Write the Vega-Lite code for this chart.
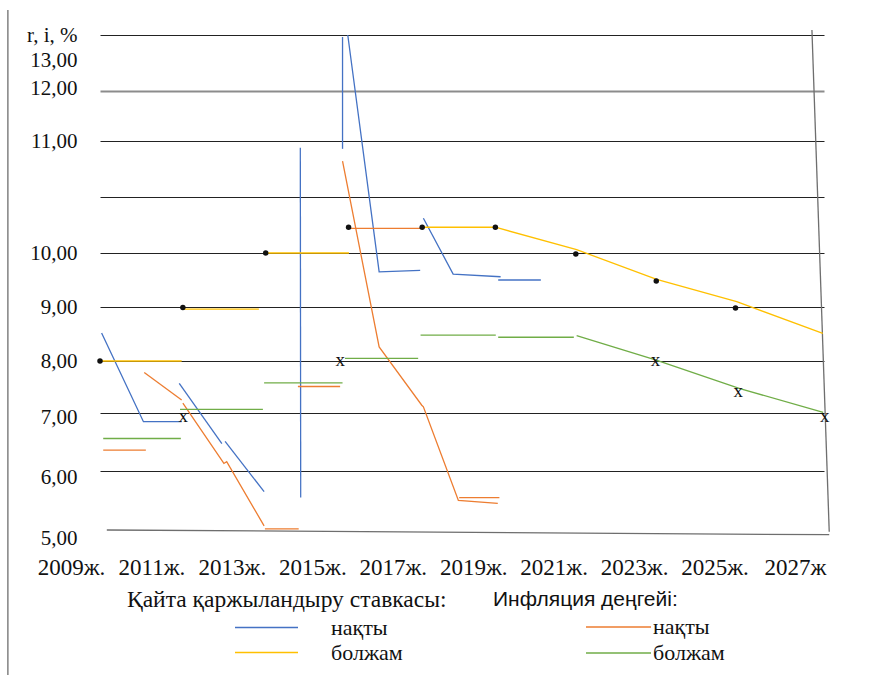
{
  "$schema": "https://vega.github.io/schema/vega-lite/v6.json",
  "width": 720,
  "height": 495,
  "autosize": {"type": "none"},
  "padding": {"left": 97, "top": 35, "right": 55, "bottom": 145},
  "background": "white",
  "config": {"view": {"stroke": null}, "font": "Liberation Serif, Times New Roman, DejaVu Serif, serif"},
  "datasets": {
    "rate": [
      {"seg": "B1", "type": "нақты", "year": 2009.04, "rate": 8.52, "ord": 1},
      {"seg": "B1", "type": "нақты", "year": 2010.08, "rate": 6.85, "ord": 2},
      {"seg": "B1", "type": "нақты", "year": 2011.03, "rate": 6.85, "ord": 3},
      {"seg": "B2", "type": "нақты", "year": 2010.97, "rate": 7.57, "ord": 1},
      {"seg": "B2", "type": "нақты", "year": 2012.03, "rate": 6.47, "ord": 2},
      {"seg": "B3", "type": "нақты", "year": 2012.11, "rate": 6.51, "ord": 1},
      {"seg": "B3", "type": "нақты", "year": 2013.08, "rate": 5.65, "ord": 2},
      {"seg": "B4", "type": "нақты", "year": 2013.98, "rate": 10.94, "ord": 1},
      {"seg": "B4", "type": "нақты", "year": 2013.99, "rate": 5.55, "ord": 2},
      {"seg": "B5", "type": "нақты", "year": 2015.03, "rate": 13.46, "ord": 1},
      {"seg": "B5", "type": "нақты", "year": 2015.03, "rate": 10.93, "ord": 2},
      {"seg": "B6", "type": "нақты", "year": 2015.16, "rate": 13.5, "ord": 1},
      {"seg": "B6", "type": "нақты", "year": 2015.94, "rate": 9.65, "ord": 2},
      {"seg": "B6", "type": "нақты", "year": 2016.96, "rate": 9.68, "ord": 3},
      {"seg": "B7", "type": "нақты", "year": 2017.04, "rate": 10.31, "ord": 1},
      {"seg": "B7", "type": "нақты", "year": 2017.78, "rate": 9.61, "ord": 2},
      {"seg": "B7", "type": "нақты", "year": 2018.96, "rate": 9.56, "ord": 3},
      {"seg": "B8", "type": "нақты", "year": 2018.90, "rate": 9.50, "ord": 1},
      {"seg": "B8", "type": "нақты", "year": 2019.96, "rate": 9.50, "ord": 2},
      {"seg": "Y1", "type": "болжам", "year": 2009.00, "rate": 8.00, "ord": 1},
      {"seg": "Y1", "type": "болжам", "year": 2011.03, "rate": 8.00, "ord": 2},
      {"seg": "Y2", "type": "болжам", "year": 2011.06, "rate": 8.96, "ord": 1},
      {"seg": "Y2", "type": "болжам", "year": 2012.95, "rate": 8.96, "ord": 2},
      {"seg": "Y3", "type": "болжам", "year": 2013.12, "rate": 10.0, "ord": 1},
      {"seg": "Y3", "type": "болжам", "year": 2015.19, "rate": 10.0, "ord": 2},
      {"seg": "Y4", "type": "болжам", "year": 2017.01, "rate": 10.23, "ord": 1},
      {"seg": "Y4", "type": "болжам", "year": 2018.83, "rate": 10.23, "ord": 2},
      {"seg": "Y4", "type": "болжам", "year": 2020.85, "rate": 10.03, "ord": 3},
      {"seg": "Y4", "type": "болжам", "year": 2022.84, "rate": 9.51, "ord": 4},
      {"seg": "Y4", "type": "болжам", "year": 2024.83, "rate": 9.10, "ord": 5},
      {"seg": "Y4", "type": "болжам", "year": 2026.97, "rate": 8.51, "ord": 6}
    ],
    "infl": [
      {"seg": "O1", "type": "нақты", "year": 2009.08, "rate": 6.36, "ord": 1},
      {"seg": "O1", "type": "нақты", "year": 2010.14, "rate": 6.36, "ord": 2},
      {"seg": "O2", "type": "нақты", "year": 2010.10, "rate": 7.78, "ord": 1},
      {"seg": "O2", "type": "нақты", "year": 2011.03, "rate": 7.25, "ord": 2},
      {"seg": "O3", "type": "нақты", "year": 2011.06, "rate": 7.19, "ord": 1},
      {"seg": "O3", "type": "нақты", "year": 2012.08, "rate": 6.13, "ord": 2},
      {"seg": "O3", "type": "нақты", "year": 2012.15, "rate": 6.16, "ord": 3},
      {"seg": "O3", "type": "нақты", "year": 2013.08, "rate": 5.07, "ord": 4},
      {"seg": "O4", "type": "нақты", "year": 2013.10, "rate": 5.02, "ord": 1},
      {"seg": "O4", "type": "нақты", "year": 2013.94, "rate": 5.02, "ord": 2},
      {"seg": "O5", "type": "нақты", "year": 2013.92, "rate": 7.51, "ord": 1},
      {"seg": "O5", "type": "нақты", "year": 2014.97, "rate": 7.51, "ord": 2},
      {"seg": "O6", "type": "нақты", "year": 2015.03, "rate": 10.82, "ord": 1},
      {"seg": "O6", "type": "нақты", "year": 2015.94, "rate": 8.26, "ord": 2},
      {"seg": "O6", "type": "нақты", "year": 2017.00, "rate": 7.15, "ord": 3},
      {"seg": "O6", "type": "нақты", "year": 2017.04, "rate": 7.12, "ord": 4},
      {"seg": "O6", "type": "нақты", "year": 2017.91, "rate": 5.50, "ord": 5},
      {"seg": "O6", "type": "нақты", "year": 2018.89, "rate": 5.45, "ord": 6},
      {"seg": "O7", "type": "нақты", "year": 2017.93, "rate": 5.55, "ord": 1},
      {"seg": "O7", "type": "нақты", "year": 2018.93, "rate": 5.55, "ord": 2},
      {"seg": "O8", "type": "нақты", "year": 2015.19, "rate": 10.22, "ord": 1},
      {"seg": "O8", "type": "нақты", "year": 2017.00, "rate": 10.22, "ord": 2},
      {"seg": "G1", "type": "болжам", "year": 2009.08, "rate": 6.56, "ord": 1},
      {"seg": "G1", "type": "болжам", "year": 2011.01, "rate": 6.56, "ord": 2},
      {"seg": "G2", "type": "болжам", "year": 2010.99, "rate": 7.07, "ord": 1},
      {"seg": "G2", "type": "болжам", "year": 2013.05, "rate": 7.07, "ord": 2},
      {"seg": "G3", "type": "болжам", "year": 2013.08, "rate": 7.58, "ord": 1},
      {"seg": "G3", "type": "болжам", "year": 2015.03, "rate": 7.58, "ord": 2},
      {"seg": "G4", "type": "болжам", "year": 2015.09, "rate": 8.05, "ord": 1},
      {"seg": "G4", "type": "болжам", "year": 2016.91, "rate": 8.05, "ord": 2},
      {"seg": "G5", "type": "болжам", "year": 2016.97, "rate": 8.48, "ord": 1},
      {"seg": "G5", "type": "болжам", "year": 2018.84, "rate": 8.48, "ord": 2},
      {"seg": "G6", "type": "болжам", "year": 2018.90, "rate": 8.44, "ord": 1},
      {"seg": "G6", "type": "болжам", "year": 2020.78, "rate": 8.44, "ord": 2},
      {"seg": "G7", "type": "болжам", "year": 2020.85, "rate": 8.47, "ord": 1},
      {"seg": "G7", "type": "болжам", "year": 2022.81, "rate": 8.02, "ord": 2},
      {"seg": "G7", "type": "болжам", "year": 2024.91, "rate": 7.47, "ord": 3},
      {"seg": "G7", "type": "болжам", "year": 2026.98, "rate": 7.01, "ord": 4}
    ],
    "frame": [
      {"seg": "left", "year": 2006.71, "rate": 14.0, "ord": 1},
      {"seg": "left", "year": 2006.71, "rate": 2.5, "ord": 2},
      {"seg": "right", "year": 2026.70, "rate": 13.6, "ord": 1},
      {"seg": "right", "year": 2027.13, "rate": 4.97, "ord": 2},
      {"seg": "bottom", "year": 2009.17, "rate": 5.0, "ord": 1},
      {"seg": "bottom", "year": 2027.13, "rate": 4.92, "ord": 2}
    ],
    "dots": [
      {"year": 2009.00, "rate": 8.00},
      {"year": 2011.06, "rate": 8.99},
      {"year": 2013.12, "rate": 10.0},
      {"year": 2015.18, "rate": 10.23},
      {"year": 2017.01, "rate": 10.23},
      {"year": 2018.83, "rate": 10.23},
      {"year": 2020.83, "rate": 9.98},
      {"year": 2022.83, "rate": 9.48},
      {"year": 2024.80, "rate": 8.98}
    ],
    "xmarks": [
      {"year": 2011.07, "rate": 6.95},
      {"year": 2014.97, "rate": 8.02},
      {"year": 2022.81, "rate": 8.01},
      {"year": 2024.87, "rate": 7.43},
      {"year": 2027.02, "rate": 6.95}
    ]
  },
  "encoding": {
    "x": {
      "field": "year",
      "type": "quantitative",
      "scale": {"domain": [2009, 2027], "range": [3, 727], "nice": false, "zero": false},
      "axis": {
        "title": null,
        "values": [2009, 2011, 2013, 2015, 2017, 2019, 2021, 2023, 2025, 2027],
        "labelExpr": "datum.value === 2027 ? '2027ж' : format(datum.value, 'd') + 'ж.'",
        "domain": false,
        "ticks": false,
        "grid": false,
        "labelOffset": -29,
        "labelPadding": 26,
        "labelFont": "Liberation Serif, Times New Roman, DejaVu Serif, serif",
        "labelFontSize": 23,
        "labelColor": "#111111",
        "labelOverlap": false,
        "labelFlush": false,
        "labelBound": false
      }
    },
    "y": {
      "field": "rate",
      "type": "quantitative",
      "scale": {
        "domain": [5, 6, 7, 8, 9, 10, 11, 12, 13, 13.5],
        "range": [495, 436, 378, 326, 272, 218, 106, 56, 25, 0],
        "nice": false,
        "zero": false
      },
      "axis": {
        "title": null,
        "values": [5, 6, 7, 8, 9, 10, 10.5, 11, 12, 13, 13.5],
        "labelExpr": "datum.value === 10.5 ? '' : datum.value === 13.5 ? 'r, i, %' : replace(format(datum.value, '.2f'), '.', ',')",
        "domain": false,
        "ticks": false,
        "grid": true,
        "gridColor": {"condition": {"test": "datum.value === 12", "value": "#8c8c8c"}, "value": "#222222"},
        "gridWidth": {"condition": {"test": "datum.value === 12", "value": 2}, "value": 1},
        "gridOpacity": {"condition": {"test": "datum.value === 5 || datum.value === 13", "value": 0}, "value": 1},
        "labelOffset": {"condition": [
          {"test": "datum.value === 5", "value": 8},
          {"test": "datum.value === 6", "value": 6},
          {"test": "datum.value === 7", "value": 4},
          {"test": "datum.value === 12", "value": -3}
        ], "value": 0},
        "labelPadding": 20,
        "labelFont": "Liberation Serif, Times New Roman, DejaVu Serif, serif",
        "labelFontSize": 21,
        "labelColor": "#111111",
        "labelOverlap": false,
        "labelFlush": false,
        "labelBound": false
      }
    }
  },
  "layer": [
    {
      "data": {"name": "frame"},
      "mark": {"type": "line", "color": "#6e6e6e", "strokeWidth": 1.3},
      "encoding": {"detail": {"field": "seg"}, "order": {"field": "ord"}}
    },
    {
      "data": {"name": "rate"},
      "mark": {"type": "line", "strokeWidth": 1.3},
      "encoding": {
        "detail": {"field": "seg"},
        "order": {"field": "ord"},
        "color": {
          "field": "type",
          "type": "nominal",
          "scale": {"domain": ["нақты", "болжам"], "range": ["#4472C4", "#FFC000"]},
          "legend": {
            "orient": "none",
            "legendX": 30,
            "legendY": 553,
            "direction": "vertical",
            "padding": 0,
            "title": "Қайта қаржыландыру ставкасы:",
            "titleFont": "Liberation Serif, Times New Roman, DejaVu Serif, serif",
            "titleFontSize": 23.5,
            "titleFontWeight": "normal",
            "titleColor": "#111111",
            "titleLimit": 600,
            "titlePadding": 6,
            "labelFont": "Liberation Serif, Times New Roman, DejaVu Serif, serif",
            "labelFontSize": 22,
            "labelColor": "#111111",
            "labelOffset": 32,
            "symbolType": "stroke",
            "symbolSize": 3969,
            "symbolStrokeWidth": 1.6,
            "symbolOffset": 107,
            "clipHeight": 20,
            "rowPadding": 3
          }
        }
      }
    },
    {
      "data": {"name": "infl"},
      "mark": {"type": "line", "strokeWidth": 1.3},
      "encoding": {
        "detail": {"field": "seg"},
        "order": {"field": "ord"},
        "color": {
          "field": "type",
          "type": "nominal",
          "scale": {"domain": ["нақты", "болжам"], "range": ["#ED7D31", "#70AD47"]},
          "legend": {
            "orient": "none",
            "legendX": 396,
            "legendY": 554,
            "direction": "vertical",
            "padding": 0,
            "title": "Инфляция деңгейі:",
            "titleFont": "Liberation Sans, Arial, sans-serif",
            "titleFontSize": 21,
            "titleFontWeight": "normal",
            "titleColor": "#111111",
            "titleLimit": 600,
            "titlePadding": 7,
            "labelFont": "Liberation Serif, Times New Roman, DejaVu Serif, serif",
            "labelFontSize": 22,
            "labelColor": "#111111",
            "labelOffset": 1,
            "symbolType": "stroke",
            "symbolSize": 4225,
            "symbolStrokeWidth": 1.6,
            "symbolOffset": 92,
            "clipHeight": 20,
            "rowPadding": 4
          }
        }
      }
    },
    {
      "data": {"name": "dots"},
      "mark": {"type": "circle", "color": "#111111", "size": 30, "opacity": 1}
    },
    {
      "data": {"name": "xmarks"},
      "mark": {"type": "text", "text": "x", "font": "Liberation Serif, Times New Roman, DejaVu Serif, serif", "fontSize": 19, "color": "#111111", "align": "center", "baseline": "middle"}
    }
  ],
  "resolve": {"scale": {"color": "independent"}, "legend": {"color": "independent"}}
}
